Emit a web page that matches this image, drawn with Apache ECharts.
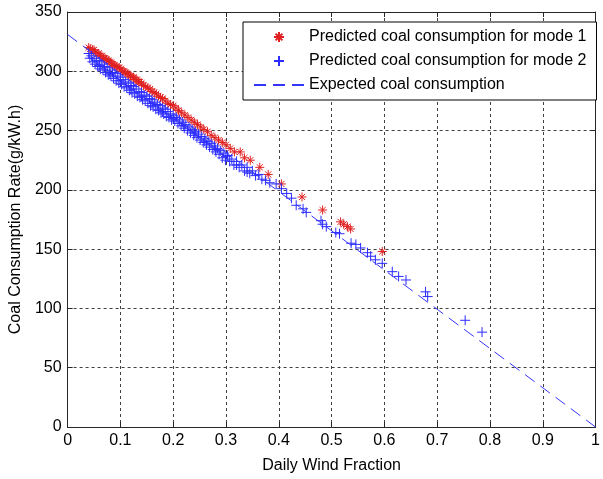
<!DOCTYPE html>
<html><head><meta charset="utf-8">
<script src="https://cdn.jsdelivr.net/npm/echarts@6/dist/echarts.min.js"></script>
<style>html,body{margin:0;padding:0;background:#fff}#c{width:603px;height:479px}</style>
</head><body><div id="c"></div>
<script>
var xTicks = [0,0.1,0.2,0.3,0.4,0.5,0.6,0.7,0.8,0.9,1];
var yTicks = [0,50,100,150,200,250,300,350];
var seriesNames = ['Predicted coal consumption for mode 1','Predicted coal consumption for mode 2','Expected coal consumption'];

var mode1X = [0.040,0.043,0.047,0.050,0.053,0.056,0.059,0.062,0.065,0.068,0.071,0.074,0.077,0.080,0.083,0.086,0.089,0.092,0.095,0.098,0.101,0.104,0.107,0.110,0.113,0.116,0.119,0.122,0.125,0.128,0.131,0.134,0.137,0.140,0.144,0.148,0.152,0.156,0.160,0.164,0.168,0.172,0.176,0.180,0.185,0.190,0.195,0.200,0.205,0.210,0.216,0.222,0.228,0.234,0.240,0.246,0.252,0.258,0.265,0.272,0.279,0.286,0.293,0.300,0.308,0.316,0.327,0.335,0.346,0.364,0.380,0.405,0.444,0.483,0.517,0.523,0.530,0.536,0.596];
var mode1Y = [320,319,318,318,316,315,315,313,313,311,311,310,309,308,307,306,305,304,303,303,302,300,300,299,298,297,296,295,295,293,293,291,291,290,288,287,286,285,283,282,281,279,278,277,275,273,272,271,269,267,265,263,261,259,257,255,253,251,249,246,244,242,240,238,235,232,232,227,225,219,213,205,194,183,173,171,169,167,148];

var mode2X = [0.040,0.042,0.045,0.047,0.050,0.052,0.055,0.057,0.060,0.062,0.065,0.067,0.070,0.072,0.075,0.077,0.080,0.082,0.085,0.087,0.090,0.092,0.095,0.097,0.100,0.102,0.105,0.107,0.110,0.112,0.115,0.117,0.120,0.122,0.125,0.127,0.130,0.132,0.135,0.137,0.140,0.142,0.145,0.147,0.150,0.152,0.155,0.157,0.160,0.162,0.165,0.167,0.170,0.172,0.175,0.177,0.180,0.182,0.185,0.187,0.190,0.192,0.195,0.197,0.200,0.203,0.206,0.209,0.212,0.215,0.218,0.221,0.224,0.227,0.230,0.233,0.236,0.239,0.242,0.245,0.248,0.251,0.254,0.257,0.260,0.263,0.266,0.269,0.272,0.275,0.278,0.281,0.284,0.287,0.290,0.293,0.296,0.299,0.303,0.307,0.311,0.315,0.320,0.325,0.330,0.335,0.340,0.345,0.350,0.356,0.362,0.368,0.375,0.383,0.395,0.405,0.415,0.424,0.433,0.446,0.452,0.480,0.483,0.490,0.508,0.515,0.537,0.546,0.555,0.568,0.574,0.583,0.596,0.615,0.627,0.641,0.678,0.682,0.753,0.785,
  0.060,0.080,0.100,0.120,0.140,0.160,0.180,0.200,0.220,0.240,0.260,0.280,0.300,0.320,0.340];
var mode2Y = [315,311,313,308,311,306,309,304,308,302,306,301,304,299,303,297,301,296,299,294,298,292,296,290,295,289,293,287,291,286,290,284,288,282,287,281,285,279,283,278,282,276,280,275,279,273,277,271,276,270,274,268,272,267,271,265,269,264,268,262,266,261,264,259,263,258,261,256,259,254,257,252,255,250,253,248,251,246,249,244,247,242,245,240,243,238,241,236,239,234,237,232,235,230,233,227,231,225,229,224,226,221,224,219,221,216,219,214,216,212,213,209,208,206,205,201,197,193,187,184,181,174,171,169,164,163,155,154,151,147,144,141,138,131,127,124,114,110,90,80,
  305,298,292,285,279,273,266,260,254,248,241,234,228,221,215];

var lineX = [0,1];
var lineY = [331,0];

function pairs(xs, ys){ var out=[]; for (var i=0;i<xs.length;i++) out.push([xs[i], ys[i]]); return out; }

var chart = echarts.init(document.getElementById('c'), null, {renderer:'canvas'});
var font = 'Liberation Sans, Arial, sans-serif';
var axisColor = '#262626';
var gridStyle = {show:true, lineStyle:{color:'#404040', type:[3,3], width:1}};
var fmtX = function(v){ var s = (+v).toFixed(1); return s==='0.0'?'0':(s==='1.0'?'1':s); };

chart.setOption({
  animation:false,
  backgroundColor:'#fff',
  grid:{left:65, right:4, top:12, bottom:43, containLabel:false},
  legend:{
    orient:'vertical', left:243, top:22,
    padding:[7,10,7,10], itemGap:8, itemWidth:50, itemHeight:10,
    backgroundColor:'#fff', borderColor:'#000', borderWidth:1, borderRadius:0,
    textStyle:{fontFamily:font, fontSize:16, color:'#000'},
    data:seriesNames
  },
  xAxis:[{
    type:'value', min:0, max:1, interval:0.1,
    name:'Daily Wind Fraction', nameLocation:'middle', nameGap:31,
    nameTextStyle:{fontFamily:font, fontSize:16, color:'#000'},
    axisLine:{show:true, onZero:false, lineStyle:{color:axisColor}},
    axisTick:{show:true, inside:true, length:5, lineStyle:{color:axisColor}},
    axisLabel:{fontFamily:font, fontSize:16, color:'#000', margin:6, formatter:fmtX},
    splitLine:gridStyle
  },{
    type:'value', position:'top', min:0, max:1, interval:0.1,
    axisLine:{show:true, onZero:false, lineStyle:{color:axisColor}},
    axisTick:{show:true, inside:true, length:5, lineStyle:{color:axisColor}},
    axisLabel:{show:false}, splitLine:{show:false}
  }],
  yAxis:[{
    type:'value', min:0, max:350, interval:50,
    name:'Coal Consumption Rate(g/kW.h)', nameLocation:'middle', nameGap:39,
    nameTextStyle:{fontFamily:font, fontSize:16, color:'#000'},
    axisLine:{show:true, onZero:false, lineStyle:{color:axisColor}},
    axisTick:{show:true, inside:true, length:5, lineStyle:{color:axisColor}},
    axisLabel:{fontFamily:font, fontSize:16, color:'#000', margin:6},
    splitLine:gridStyle
  },{
    type:'value', position:'right', min:0, max:350, interval:50,
    axisLine:{show:true, onZero:false, lineStyle:{color:axisColor}},
    axisTick:{show:true, inside:true, length:5, lineStyle:{color:axisColor}},
    axisLabel:{show:false}, splitLine:{show:false}
  }],
  series:[{
    name:seriesNames[0], type:'scatter', xAxisIndex:0, yAxisIndex:0,
    symbol:'path://M5,0L5,10M0,5L10,5M1.6,1.6L8.4,8.4M8.4,1.6L1.6,8.4', symbolSize:9,
    itemStyle:{color:'rgba(0,0,0,0)', borderColor:'#e02020', borderWidth:1, opacity:1},
    data:pairs(mode1X, mode1Y), z:2
  },{
    name:seriesNames[1], type:'scatter', xAxisIndex:0, yAxisIndex:0,
    symbol:'path://M5,0L5,10M0,5L10,5', symbolSize:10,
    itemStyle:{color:'rgba(0,0,0,0)', borderColor:'#2b2bff', borderWidth:1, opacity:1},
    data:pairs(mode2X, mode2Y), z:3
  },{
    name:seriesNames[2], type:'line', xAxisIndex:0, yAxisIndex:0,
    symbol:'none', showSymbol:false,
    lineStyle:{color:'#3535ff', width:1, type:[12,7]},
    itemStyle:{color:'rgba(0,0,0,0)', borderWidth:0, opacity:0},
    data:pairs(lineX, lineY), z:4
  }]
});
</script></body></html>
